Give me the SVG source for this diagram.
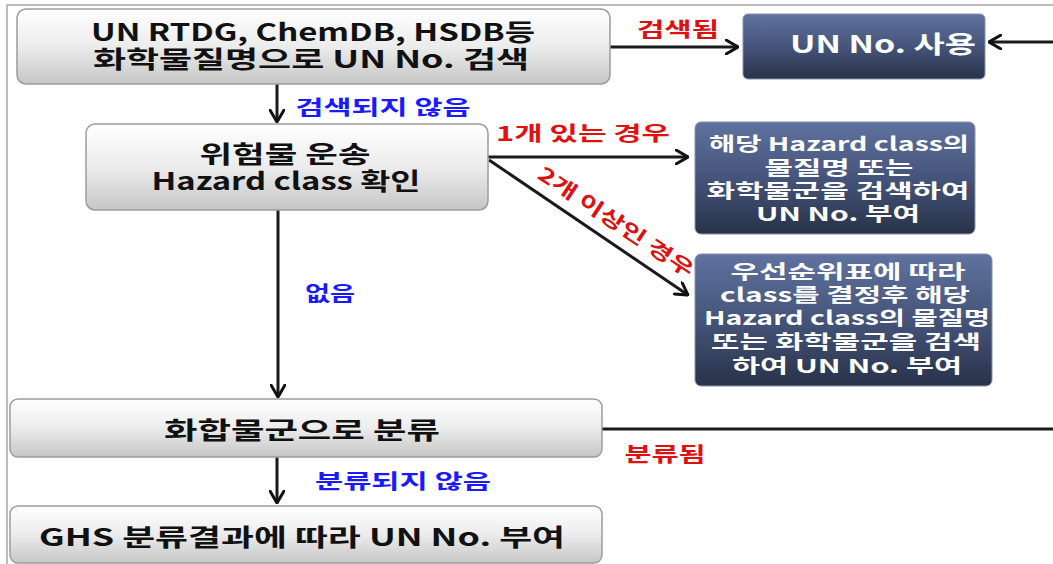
<svg xmlns="http://www.w3.org/2000/svg" width="1053" height="564" viewBox="0 0 1053 564">
<defs>
<linearGradient id="gGray" x1="0" y1="0" x2="0" y2="1">
<stop offset="0" stop-color="#ffffff"/>
<stop offset="0.5" stop-color="#ececec"/>
<stop offset="1" stop-color="#c6c6c6"/>
</linearGradient>
<linearGradient id="gBlue" x1="0" y1="0" x2="0" y2="1">
<stop offset="0" stop-color="#5f729f"/>
<stop offset="0.5" stop-color="#45547a"/>
<stop offset="1" stop-color="#283249"/>
</linearGradient>
<marker id="arr" viewBox="0 0 14 16" refX="13" refY="8" markerWidth="14" markerHeight="16" markerUnits="userSpaceOnUse" orient="auto">
<path d="M1,1 L13,8 L1,15" fill="none" stroke="#111" stroke-width="3" stroke-linecap="round" stroke-linejoin="miter"/>
</marker>
</defs>
<style>
.gbox{fill:url(#gGray);stroke:#9c9c9c;stroke-width:1.5}
.bbox{fill:url(#gBlue);stroke:#8a93a8;stroke-width:1}
.t{font-family:"Noto Sans CJK KR","Noto Sans",sans-serif;font-weight:bold;text-anchor:middle}
.dk{fill:#111;font-size:24px}
.wt{fill:#ffffff;font-size:19px}
.red{fill:#e01010;font-size:20px}
.blu{fill:#1a1aff;font-size:20px}
.ln{stroke:#1a1a1a;stroke-width:3;fill:none}
.frame{stroke:#a8a8a8;stroke-width:1.5;fill:none}
</style>
<rect width="1053" height="564" fill="#ffffff"/>
<path class="frame" d="M7,564 L7,5 L1053,5"/>

<g id="connectors">
<line class="ln" x1="610" y1="47" x2="738" y2="47" marker-end="url(#arr)"/>
<line class="ln" x1="1053" y1="42" x2="989" y2="42" marker-end="url(#arr)"/>
<line class="ln" x1="277" y1="84" x2="277" y2="122" marker-end="url(#arr)"/>
<line class="ln" x1="488" y1="157" x2="688" y2="157" marker-end="url(#arr)"/>
<line class="ln" x1="489" y1="160" x2="688" y2="295" marker-end="url(#arr)"/>
<line class="ln" x1="278" y1="210" x2="278" y2="397" marker-end="url(#arr)"/>
<line class="ln" x1="602" y1="429" x2="1053" y2="429"/>
<line class="ln" x1="277" y1="457" x2="277" y2="503" marker-end="url(#arr)"/>
<text class="t red" x="678" y="37" textLength="82" lengthAdjust="spacingAndGlyphs">검색됨</text>
<text class="t blu" x="383" y="115" textLength="175" lengthAdjust="spacingAndGlyphs">검색되지 않음</text>
<text class="t red" x="583" y="141" textLength="174" lengthAdjust="spacingAndGlyphs">1개 있는 경우</text>
<text class="t red" transform="translate(616,222) rotate(33.5)" x="0" y="7" textLength="182" lengthAdjust="spacingAndGlyphs">2개 이상인 경우</text>
<text class="t blu" x="330" y="301" textLength="50" lengthAdjust="spacingAndGlyphs">없음</text>
<text class="t red" x="665" y="462" textLength="81" lengthAdjust="spacingAndGlyphs">분류됨</text>
<text class="t blu" x="403" y="489" textLength="176" lengthAdjust="spacingAndGlyphs">분류되지 않음</text>
</g>

<g id="node-search">
<rect class="gbox" x="17" y="9" width="593" height="75" rx="9"/>
<text class="t dk"><tspan x="313" y="41" textLength="444" lengthAdjust="spacingAndGlyphs">UN RTDG, ChemDB, HSDB등</tspan><tspan x="311" y="68" textLength="436" lengthAdjust="spacingAndGlyphs">화학물질명으로 UN No. 검색</tspan></text>
</g>

<g id="node-use">
<rect class="bbox" x="743" y="14" width="242" height="65" rx="5"/>
<text class="t wt" style="font-size:24px" x="883" y="53" textLength="186" lengthAdjust="spacingAndGlyphs">UN No. 사용</text>
</g>

<g id="node-hazard">
<rect class="gbox" x="86" y="124" width="402" height="86" rx="9"/>
<text class="t dk"><tspan x="285" y="163" textLength="171" lengthAdjust="spacingAndGlyphs">위험물 운송</tspan><tspan x="286" y="190" textLength="269" lengthAdjust="spacingAndGlyphs">Hazard class 확인</tspan></text>
</g>

<g id="node-one">
<rect class="bbox" x="695" y="122" width="280" height="112" rx="6"/>
<text class="t wt"><tspan x="839" y="151" textLength="260" lengthAdjust="spacingAndGlyphs">해당 Hazard class의</tspan><tspan x="839" y="175" textLength="149" lengthAdjust="spacingAndGlyphs">물질명 또는</tspan><tspan x="838" y="198" textLength="263" lengthAdjust="spacingAndGlyphs">화학물군을 검색하여</tspan><tspan x="838" y="221" textLength="164" lengthAdjust="spacingAndGlyphs">UN No. 부여</tspan></text>
</g>

<g id="node-multi">
<rect class="bbox" x="695" y="254" width="297" height="132" rx="6"/>
<text class="t wt"><tspan x="848" y="279" textLength="235" lengthAdjust="spacingAndGlyphs">우선순위표에 따라</tspan><tspan x="845" y="302" textLength="250" lengthAdjust="spacingAndGlyphs">class를 결정후 해당</tspan><tspan x="847" y="325" textLength="286" lengthAdjust="spacingAndGlyphs">Hazard class의 물질명</tspan><tspan x="846" y="349" textLength="270" lengthAdjust="spacingAndGlyphs">또는 화학물군을 검색</tspan><tspan x="847" y="373" textLength="230" lengthAdjust="spacingAndGlyphs">하여 UN No. 부여</tspan></text>
</g>

<g id="node-group">
<rect class="gbox" x="10" y="399" width="592" height="58" rx="8"/>
<text class="t dk" x="302" y="439" textLength="276" lengthAdjust="spacingAndGlyphs">화합물군으로 분류</text>
</g>

<g id="node-ghs">
<rect class="gbox" x="10" y="506" width="592" height="57" rx="8"/>
<text class="t dk" x="302" y="546" textLength="526" lengthAdjust="spacingAndGlyphs">GHS 분류결과에 따라 UN No. 부여</text>
</g>
</svg>
